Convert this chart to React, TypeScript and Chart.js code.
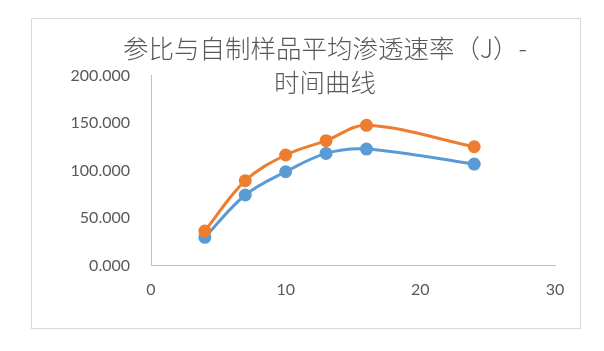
import React, { useEffect, useRef } from "react";
import { Chart, registerables } from "chart.js";

Chart.register(...registerables);

const titleLines = ["参比与自制样品平均渗透速率（J）-", "时间曲线"];
const timeHours = [4, 7, 10, 13, 16, 24];
const referenceJ = [29.7, 74.2, 98.7, 118.0, 122.6, 106.8];
const selfMadeJ = [36.3, 89.3, 116.3, 131.4, 147.6, 125.0];
const seriesNames = ["参比", "自制样品"];
const xTicks = { min: 0, max: 30, step: 10 };
const yTicks = { min: 0, max: 200, step: 50 };

const BLUE = "#5B9BD5";
const ORANGE = "#ED7D31";
const TEXT = "#595959";
const AXIS = "#BFBFBF";

export default function App() {
  const canvasRef = useRef<HTMLCanvasElement | null>(null);

  useEffect(() => {
    const canvas = canvasRef.current;
    if (!canvas) return;
    const zeroPad = (s: any) => {
      s.paddingLeft = 0;
      s.paddingRight = 0;
      s.paddingTop = 0;
      s.paddingBottom = 0;
    };
    const chart = new Chart(canvas, {
      type: "scatter",
      data: {
        datasets: [
          {
            label: seriesNames[0],
            data: timeHours.map((x, i) => ({ x, y: referenceJ[i] })),
            borderColor: BLUE,
            backgroundColor: BLUE,
            pointBackgroundColor: BLUE,
            pointBorderColor: BLUE,
            showLine: true,
            borderWidth: 3,
            pointRadius: 5,
            tension: 0.35,
            order: 1,
          },
          {
            label: seriesNames[1],
            data: timeHours.map((x, i) => ({ x, y: selfMadeJ[i] })),
            borderColor: ORANGE,
            backgroundColor: ORANGE,
            pointBackgroundColor: ORANGE,
            pointBorderColor: ORANGE,
            showLine: true,
            borderWidth: 3,
            pointRadius: 5,
            tension: 0.35,
            order: 0,
          },
        ],
      },
      options: {
        responsive: false,
        animation: false,
        layout: { padding: { left: 0, right: 25, top: 56.5, bottom: 22.5 } },
        plugins: {
          legend: { display: false },
          title: { display: false },
          tooltip: { enabled: false },
        },
        scales: {
          x: {
            type: "linear",
            min: xTicks.min,
            max: xTicks.max,
            grid: { display: false, drawTicks: false },
            border: { display: true, color: AXIS, width: 1 },
            ticks: {
              stepSize: xTicks.step,
              color: TEXT,
              padding: 15,
              font: { family: "Lato", size: 16 },
            },
            afterFit: (s: any) => {
              zeroPad(s);
              s.height = 40;
            },
          },
          y: {
            type: "linear",
            min: yTicks.min,
            max: yTicks.max,
            grid: { display: false, drawTicks: false },
            border: { display: true, color: AXIS, width: 1 },
            ticks: {
              stepSize: yTicks.step,
              color: TEXT,
              padding: 21,
              font: { family: "Lato", size: 16 },
              callback: (v: any) => Number(v).toFixed(3),
            },
            afterFit: (s: any) => {
              zeroPad(s);
              s.width = 119;
            },
          },
        },
      },
    });
    return () => chart.destroy();
  }, []);

  return (
    <div style={{ position: "relative", width: 588, height: 335 }}>
      <div
        style={{
          position: "absolute",
          left: 23,
          top: 10,
          width: 548,
          height: 309,
          border: "1px solid #D9D9D9",
        }}
      />
      <canvas
        ref={canvasRef}
        width={548}
        height={309}
        style={{ position: "absolute", left: 24, top: 11, width: 548, height: 309 }}
      />
      <div
        style={{
          position: "absolute",
          left: 47,
          top: 22,
          width: 540,
          textAlign: "center",
          fontFamily: '"Noto Sans CJK SC", sans-serif',
          fontSize: 25.5,
          fontWeight: 300,
          lineHeight: "34px",
          color: TEXT,
          pointerEvents: "none",
        }}
      >
        {titleLines.map((t, i) => (
          <div key={i}>{t}</div>
        ))}
      </div>
    </div>
  );
}
